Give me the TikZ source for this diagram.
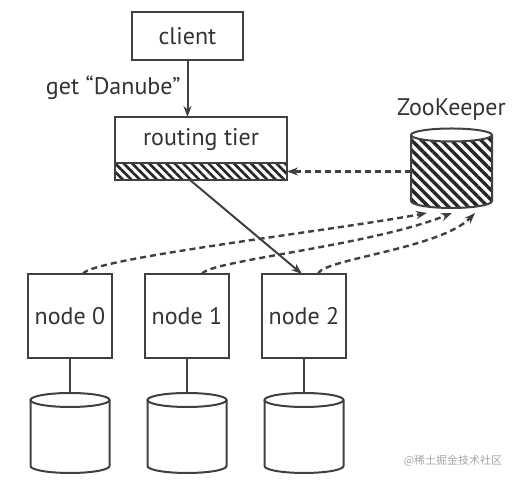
\documentclass[tikz,border=0pt]{standalone}
\usepackage{fontspec}
\setmainfont{PT Sans}
\newfontfamily\cjkfont{Noto Sans CJK SC}
\usetikzlibrary{arrows.meta,patterns.meta,positioning}

\tikzset{
  box/.style={draw=black!75, line width=2pt, fill=white, outer sep=0pt,
    text=black!80, font=\fontsize{24}{28}\selectfont},
  link/.style={draw=black!75, line width=2pt},
  tip/.style={-{Stealth[length=11pt,width=8pt]}},
  watch/.style={link, line width=2.4pt, dash pattern=on 6pt off 4pt, tip},
  label/.style={text=black!80, font=\fontsize{24}{28}\selectfont},
}

\begin{document}
\begin{tikzpicture}[x=1pt, y=1pt]
  \useasboundingbox (0,0) rectangle (515,481);

  % === Client and routing tier ===
  \node[box, minimum width=111pt, minimum height=48pt] (client) at (187.5,445) {client};
  \node[box, minimum width=172pt, minimum height=46pt] (router) at (201,341) {routing tier};
  \node[box, minimum width=172pt, minimum height=17pt, below=0pt of router,
    pattern={Lines[angle=-45,distance=6pt,line width=2.6pt]}, pattern color=black!85] (strip) {};

  % === Request ===
  \draw[link, tip] (client.south) -- (client.south |- router.north);
  \node[label, anchor=base east] (req) at (184,386) {get “Danube”};

  % === ZooKeeper cylinder (hatched side, white lid) ===
  \fill[pattern={Lines[angle=-45,distance=7pt,line width=3.4pt]}, pattern color=black!85]
    (411,346) -- (411,280) arc[start angle=180, end angle=360, x radius=40.5, y radius=7] -- (492,346) -- cycle;
  \draw[link] (411,346) -- (411,280) arc[start angle=180, end angle=360, x radius=40.5, y radius=7] -- (492,346);
  \draw[link, fill=white] (451.5,346) ellipse[x radius=40.5, y radius=6.5];
  \node[label, anchor=base] (zklabel) at (451.5,365) {ZooKeeper};
  \coordinate (zkw) at (411,309.5);
  \coordinate (zk0) at (427,268);
  \coordinate (zk1) at (452,268);
  \coordinate (zk2) at (475,268);

  % === ZooKeeper tells the routing tier ===
  \draw[watch] (zkw) -- (strip.east);

  % === Nodes and their disks ===
  \foreach \i/\x in {0/70, 1/187, 2/304} {
    \node[box, minimum width=84pt, minimum height=84pt] (n\i) at (\x,165) {node \i};
    \draw[link, fill=white] (\x-39.5,81) -- (\x-39.5,15)
      arc[start angle=180, end angle=360, x radius=39.5, y radius=7] -- (\x+39.5,81);
    \draw[link, fill=white] (\x,81) ellipse[x radius=39.5, y radius=7];
    \coordinate (db\i) at (\x,88);
    \draw[link] (n\i) -- (db\i);
  }

  % === Routed request ===
  \draw[link, tip] ([xshift=-11pt]strip.south) -- ([xshift=-2pt]n2.north);

  % === Nodes register in ZooKeeper ===
  \draw[watch] ([xshift=13pt]n0.north) .. controls (88,222) and (330,250) .. (zk0);
  \draw[watch] ([xshift=15pt]n1.north) .. controls (207,220) and (370,235) .. (zk1);
  \draw[watch] ([xshift=14pt]n2.north) .. controls (322,222) and (440,232) .. (zk2);

  % === Watermark ===
  \node[text=black!35, font=\cjkfont\fontsize{11}{13}\selectfont] (mark) at (453,20) {@稀土掘金技术社区};

\end{tikzpicture}
\end{document}
